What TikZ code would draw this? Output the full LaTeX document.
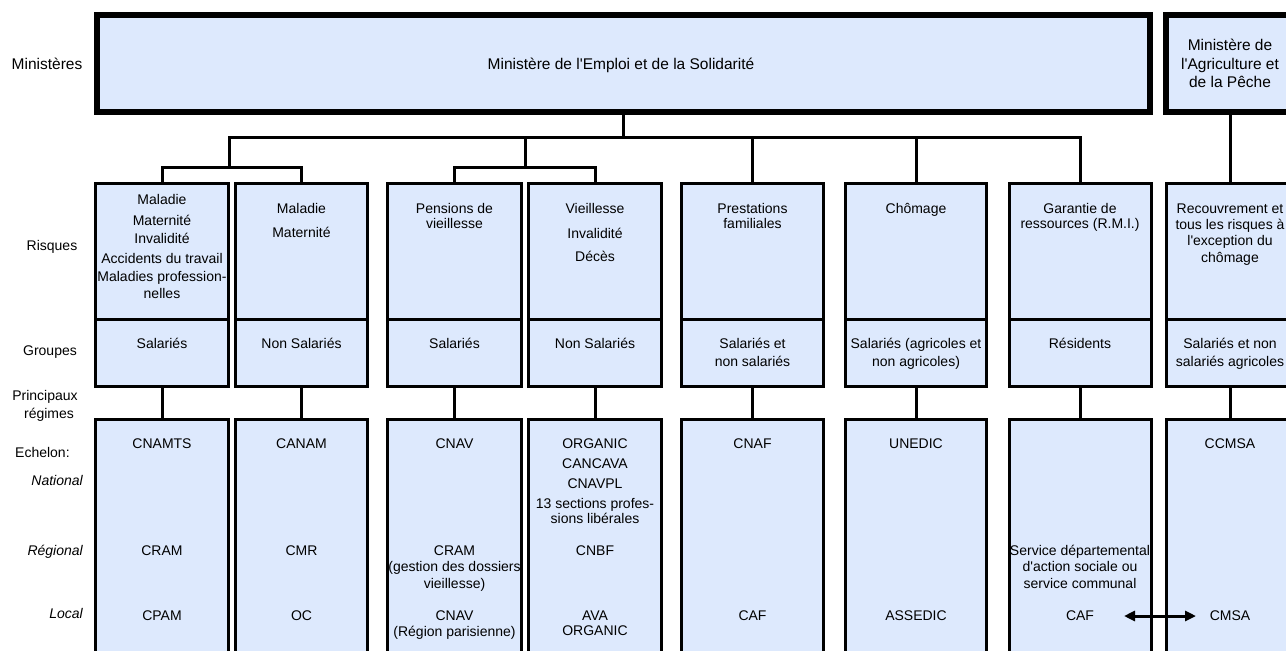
\documentclass[tikz,border=0pt]{standalone}
\usepackage{fontspec}
\setmainfont{Liberation Sans}
\usetikzlibrary{arrows.meta}
\definecolor{boxfill}{RGB}{221,233,253}
\newcommand{\apos}{\textquotesingle}
\begin{document}
\begin{tikzpicture}[x=1pt,y=-1pt,
  box/.style={draw=black,line width=3pt,fill=boxfill,inner sep=0pt,outer sep=0pt},
  minbox/.style={box,line width=6pt},
  conn/.style={line width=3pt},
  txt/.style={font=\fontsize{14}{16}\selectfont,inner sep=0pt,anchor=base},
  bigtxt/.style={font=\fontsize{15.5}{18}\selectfont,inner sep=0pt,anchor=base},
  itxt/.style={font=\fontsize{14}{16}\selectfont\itshape,inner sep=0pt,anchor=base east},
  dbl/.style={line width=3pt,{Triangle[length=11pt,width=10pt]}-{Triangle[length=11pt,width=10pt]}}]
\useasboundingbox (0,0) rectangle (1286,651);
\clip (0,0) rectangle (1286,651);
\fill[white] (0,0) rectangle (1286,651);

% ministries
\node[minbox,minimum width=1053pt,minimum height=97pt] (min) at (623.5,63.5) {};
\node[minbox,minimum width=128pt,minimum height=97pt] (agr) at (1230,63.5) {};
\node[bigtxt] (mintxt) at (621,69) {Ministère de l\apos Emploi et de la Solidarité};
\node[bigtxt] (agr1) at (1230,50) {Ministère de};
\node[bigtxt] (agr2) at (1230,69) {l\apos Agriculture et};
\node[bigtxt] (agr3) at (1230,87) {de la Pêche};

% columns
\foreach \i/\cx/\w in {1/162/133,2/301.5/132,3/454.5/134,4/595/133,5/752.5/142,6/916/141,7/1080/142,8/1230/127}{
  \node[box,minimum width=\w pt,minimum height=135.5pt] (r\i) at (\cx,251.25) {};
  \node[box,minimum width=\w pt,minimum height=67.5pt] (g\i) at (\cx,352.75) {};
  \node[box,minimum width=\w pt,minimum height=280.5pt] (e\i) at (\cx,559.75) {};
  \draw[conn] (g\i.south) -- (e\i.north);
}

% tree connectors
\coordinate (busA) at (229,137);
\coordinate (sub1) at (229,167);
\coordinate (sub2) at (525,167);
\draw[conn] (min.south) -- (min.south |- busA);
\draw[conn] (sub1) |- (r7.north |- busA) -- (r7.north);
\draw[conn] (sub2) -- (sub2 |- busA);
\draw[conn] (r1.north) |- (sub1) -| (r2.north);
\draw[conn] (r3.north) |- (sub2) -| (r4.north);
\draw[conn] (r5.north) -- (r5.north |- busA);
\draw[conn] (r6.north) -- (r6.north |- busA);
\draw[conn] (agr.south) -- (r8.north);

% row labels
\node[bigtxt] (lmin) at (47,69) {Ministères};
\node[txt] (lris) at (52,250) {Risques};
\node[txt] (lgro) at (50,355) {Groupes};
\node[txt] (lpr1) at (45,400) {Principaux};
\node[txt] (lpr2) at (49,418) {régimes};
\node[txt,anchor=base west] (lech) at (15,457) {Echelon:};
\node[itxt] (lnat) at (83,485) {National};
\node[itxt] (lreg) at (83,555) {Régional};
\node[itxt] (lloc) at (83,618) {Local};

% texts in boxes
\foreach \x/\y/\t [count=\n] in {
  162/199/Maladie, 162/220/Maternité, 162/238/Invalidité, 162/258/Accidents du travail,
  162/276/Maladies profession-, 162/293/nelles,
  301.5/208/Maladie, 301.5/232/Maternité,
  454.5/208/Pensions de, 454.5/223.5/vieillesse,
  595/208/Vieillesse, 595/233/Invalidité, 595/256/Décès,
  752.5/208/Prestations, 752.5/223.5/familiales,
  916/208/Chômage,
  1080/208/Garantie de, 1080/223.5/ressources (R.M.I.),
  1230/208/Recouvrement et, 1230/224/tous les risques à, 1230/240/l\apos exception du, 1230/257/chômage,
  162/343/Salariés, 301.5/343/Non Salariés, 454.5/343/Salariés, 595/343/Non Salariés,
  752.5/343/Salariés et, 752.5/361/non salariés,
  916/343/Salariés (agricoles et, 916/361/non agricoles),
  1080/343/Résidents,
  1230/343/Salariés et non, 1230/361/salariés agricoles,
  162/443/CNAMTS, 162/550/CRAM, 162/615/CPAM,
  301.5/443/CANAM, 301.5/550/CMR, 301.5/615/OC,
  454.5/443/CNAV, 454.5/550/CRAM, 454.5/566/(gestion des dossiers, 454.5/583/vieillesse),
  454.5/615/CNAV, 454.5/631/(Région parisienne),
  595/443/ORGANIC, 595/463/CANCAVA, 595/483/CNAVPL, 595/503/13 sections profes-,
  595/518/sions libérales, 595/550/CNBF, 595/615/AVA, 595/630/ORGANIC,
  752.5/443/CNAF, 752.5/615/CAF,
  916/443/UNEDIC, 916/615/ASSEDIC,
  1080/550/Service départemental, 1080/566/d\apos action sociale ou, 1080/583/service communal,
  1080/615/CAF,
  1230/443/CCMSA, 1230/615/CMSA}{
  \node[txt] (t\n) at (\x,\y+5) {\t};
}

% double arrow CAF <-> CMSA
\coordinate (arrL) at (1124,616);
\coordinate (arrR) at (1196,616);
\draw[dbl] (arrL) -- (arrR);
\end{tikzpicture}
\end{document}
